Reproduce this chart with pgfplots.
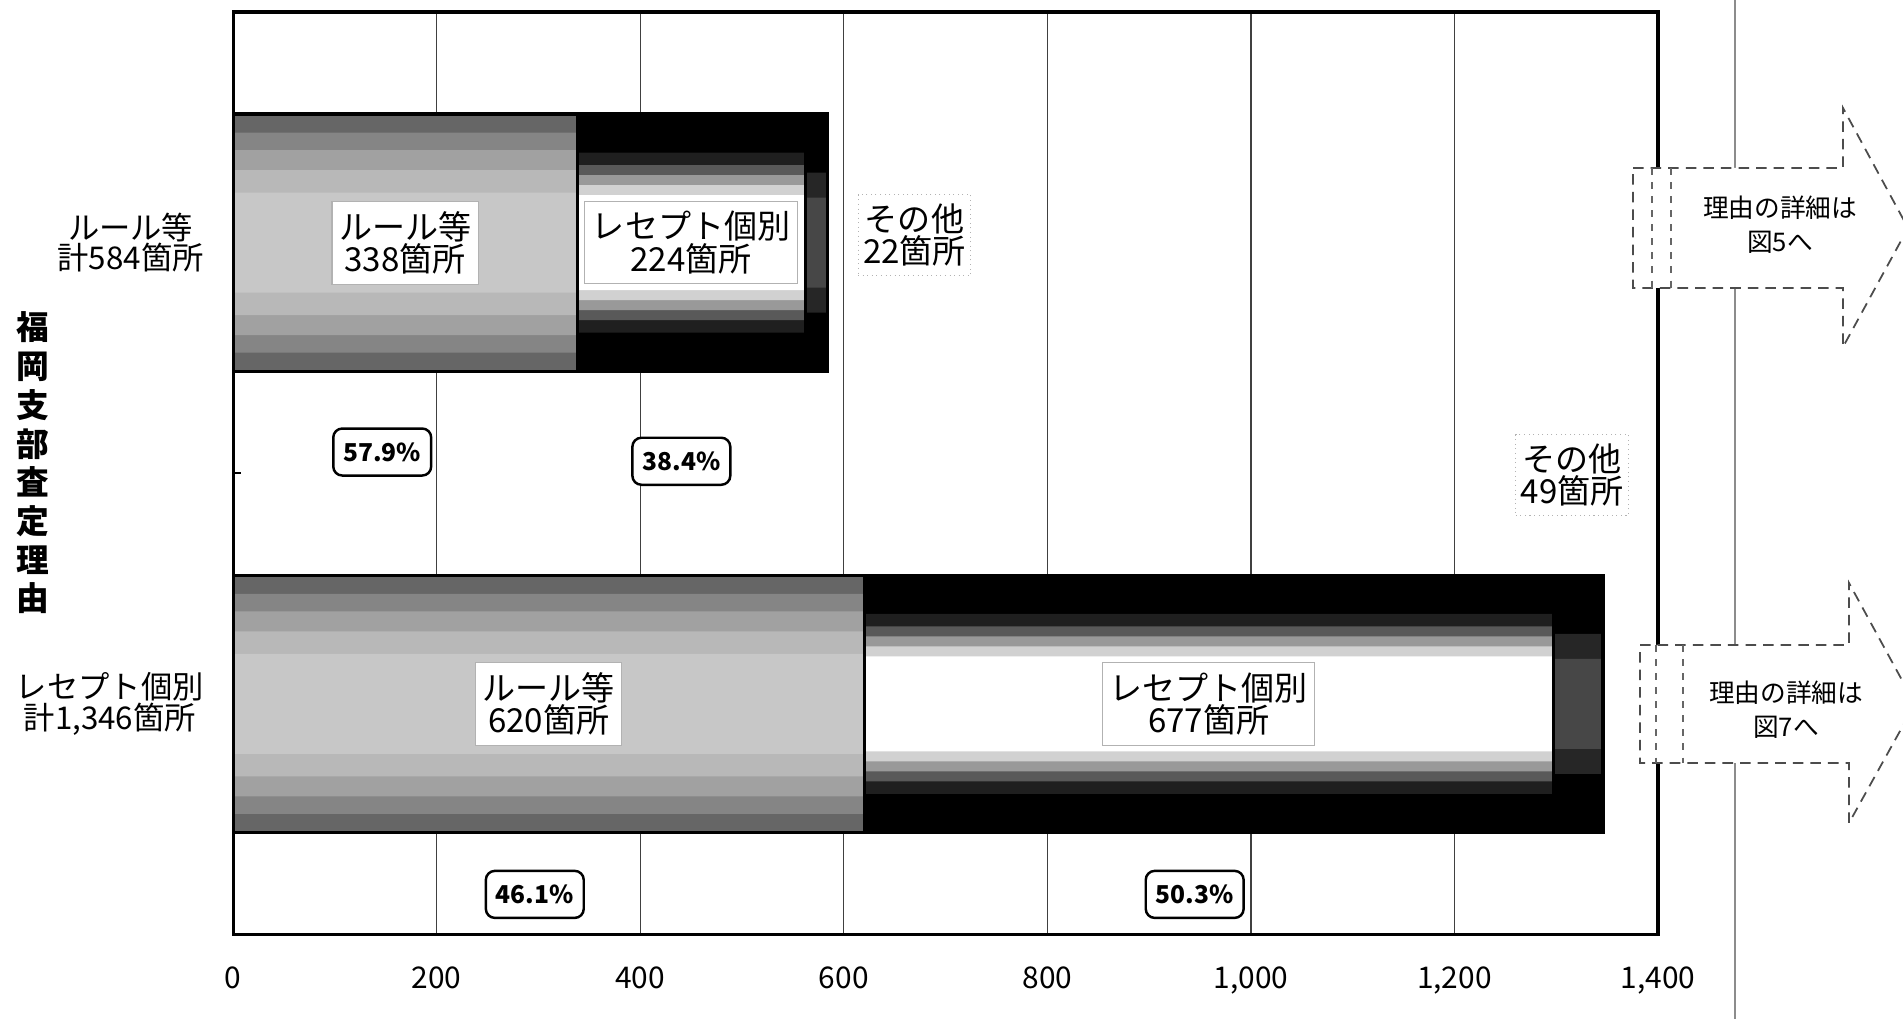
\documentclass[border=0pt]{standalone}
\usepackage{fontspec}
\setmainfont{Noto Sans CJK JP}
\usepackage{pgfplots}
\usepackage{pgfplotstable}
\pgfplotsset{compat=1.18}
\setlength{\lineskiplimit}{-10pt}

\pgfplotstableread{
y rule rece other
0 620  677  49
1 338  224  22
}\fukuoka

\tikzset{
    lab/.style={draw=gray!60, line width=0.3pt, fill=white, align=center,
        inner xsep=0.07cm, inner ysep=0.1cm, font=\fontsize{9.4}{9.2}\selectfont},
    oth/.style={draw=gray!60, line width=0.3pt, densely dotted, fill=white, align=center,
        inner xsep=0.05cm, inner ysep=0.09cm, font=\fontsize{9.4}{9.2}\selectfont},
    pct/.style={draw=black, line width=0.7pt, rounded corners=0.09cm, fill=white,
        font=\bfseries\fontsize{7}{8}\selectfont, inner xsep=0.1cm, minimum height=0.47cm},
}
\pgfplotsset{
    lay/.style 2 args={xbar, bar shift=0pt, bar width=#1, fill=#2, draw=none},
    edge/.style={xbar, bar shift=0pt, bar width=2.57cm, fill=none, draw=black, line width=0.9pt},
}

\begin{document}
\begin{tikzpicture}
\begin{axis}[
    set layers,
    scale only axis,
    width=14.24cm, height=9.22cm,
    xmin=0, xmax=1400,
    ymin=-0.5, ymax=1.5,
    xtick={0,200,...,1400},
    ytick={0,1},
    yticklabels={{レセプト個別\\計1,346箇所},{ルール等\\計584箇所}},
    ytick pos=left,
    extra y ticks={0.5},
    extra y tick labels={},
    extra y tick style={major tick length=0.08cm, tick style={black, line width=0.6pt}},
    scaled x ticks=false,
    xticklabel style={/pgf/number format/1000 sep={,}, /pgf/number format/assume math mode=true,
        font=\fontsize{8.5}{10}\selectfont, yshift=-0.2cm},
    yticklabel style={font=\fontsize{8.9}{8.6}\selectfont, align=center, xshift=-0.17cm},
    major tick length=0pt,
    xmajorgrids,
    grid style={black!75, line width=0.4pt},
    axis line style={line width=0.9pt},
    clip=false,
]
% その他 (drawn to the full total, then covered from the left)
\addplot[lay={2.57cm}{black}]    table[y=y, x expr=\thisrow{rule}+\thisrow{rece}+\thisrow{other}] {\fukuoka};
\addplot[lay={1.40cm}{black!85}] table[y=y, x expr=\thisrow{rule}+\thisrow{rece}+\thisrow{other}] {\fukuoka};
\addplot[lay={0.90cm}{black!72}] table[y=y, x expr=\thisrow{rule}+\thisrow{rece}+\thisrow{other}] {\fukuoka};
\addplot[edge]                   table[y=y, x expr=\thisrow{rule}+\thisrow{rece}+\thisrow{other}] {\fukuoka};
% レセプト個別
\addplot[lay={2.57cm}{black}]    table[y=y, x expr=\thisrow{rule}+\thisrow{rece}] {\fukuoka};
\addplot[lay={1.80cm}{black!88}] table[y=y, x expr=\thisrow{rule}+\thisrow{rece}] {\fukuoka};
\addplot[lay={1.55cm}{black!65}] table[y=y, x expr=\thisrow{rule}+\thisrow{rece}] {\fukuoka};
\addplot[lay={1.35cm}{black!40}] table[y=y, x expr=\thisrow{rule}+\thisrow{rece}] {\fukuoka};
\addplot[lay={1.15cm}{black!18}] table[y=y, x expr=\thisrow{rule}+\thisrow{rece}] {\fukuoka};
\addplot[lay={0.95cm}{white}]    table[y=y, x expr=\thisrow{rule}+\thisrow{rece}] {\fukuoka};
\addplot[edge]                   table[y=y, x expr=\thisrow{rule}+\thisrow{rece}] {\fukuoka};
% ルール等
\addplot[lay={2.57cm}{black!60}] table[y=y, x=rule] {\fukuoka};
\addplot[lay={2.20cm}{black!48}] table[y=y, x=rule] {\fukuoka};
\addplot[lay={1.85cm}{black!37}] table[y=y, x=rule] {\fukuoka};
\addplot[lay={1.45cm}{black!28}] table[y=y, x=rule] {\fukuoka};
\addplot[lay={1.00cm}{black!22}] table[y=y, x=rule] {\fukuoka};
\addplot[edge]                   table[y=y, x=rule] {\fukuoka};

\begin{pgfonlayer}{axis foreground}
\node[lab] at (axis cs:169,1) {ルール等\\338箇所};
\node[lab] at (axis cs:450,1) {レセプト個別\\224箇所};
\node[oth] at (axis cs:669.5,1.016) {その他\\22箇所};
\node[lab] at (axis cs:310,0) {ルール等\\620箇所};
\node[lab] at (axis cs:958.5,0) {レセプト個別\\677箇所};
\node[oth] at (axis cs:1315.7,0.496) {その他\\49箇所};

\node[pct] at (axis cs:146.5,0.546) {57.9\%};
\node[pct] at (axis cs:440.4,0.526) {38.4\%};
\node[pct] at (axis cs:296.4,-0.413) {46.1\%};
\node[pct] at (axis cs:944.8,-0.413) {50.3\%};
\end{pgfonlayer}

\coordinate (O) at (rel axis cs:0,1);
\end{axis}

\begin{scope}[shift={(O)}, xshift=-2.33cm, yshift=0.12cm, x=0.01cm, y=-0.01cm]
  \path (0,0) rectangle (1903,1019);
  \node[font=\bfseries\fontsize{9.3}{11}\selectfont, align=center]
      at (33,463) {福\\岡\\支\\部\\査\\定\\理\\由};
  \begin{scope}
    \clip (0,0) rectangle (1903,1019);
    \draw[black!45, line width=0.3pt] (1735,0) -- (1735,1019);
    \draw[black!70, line width=0.5pt, dash pattern=on 3pt off 2pt, fill=white]
      (1633,168) -- (1843,168) -- (1843,108) -- (1908,228) -- (1843,347)
      -- (1843,288) -- (1633,288) -- cycle;
    \draw[black!60, line width=0.4pt, dash pattern=on 2pt off 2pt]
      (1652,168) -- (1652,288) (1671,168) -- (1671,288);
    \draw[black!70, line width=0.5pt, dash pattern=on 3pt off 2pt, fill=white]
      (1640,645) -- (1849,645) -- (1849,583) -- (1915,704) -- (1849,823)
      -- (1849,763) -- (1640,763) -- cycle;
    \draw[black!60, line width=0.4pt, dash pattern=on 2pt off 2pt]
      (1656,645) -- (1656,763) (1683,645) -- (1683,763);
  \end{scope}
  \node[font=\fontsize{7.3}{9.7}\selectfont, align=center] at (1780,225) {理由の詳細は\\図5へ};
  \node[font=\fontsize{7.3}{9.7}\selectfont, align=center] at (1786,710) {理由の詳細は\\図7へ};
\end{scope}
\end{tikzpicture}
\end{document}
